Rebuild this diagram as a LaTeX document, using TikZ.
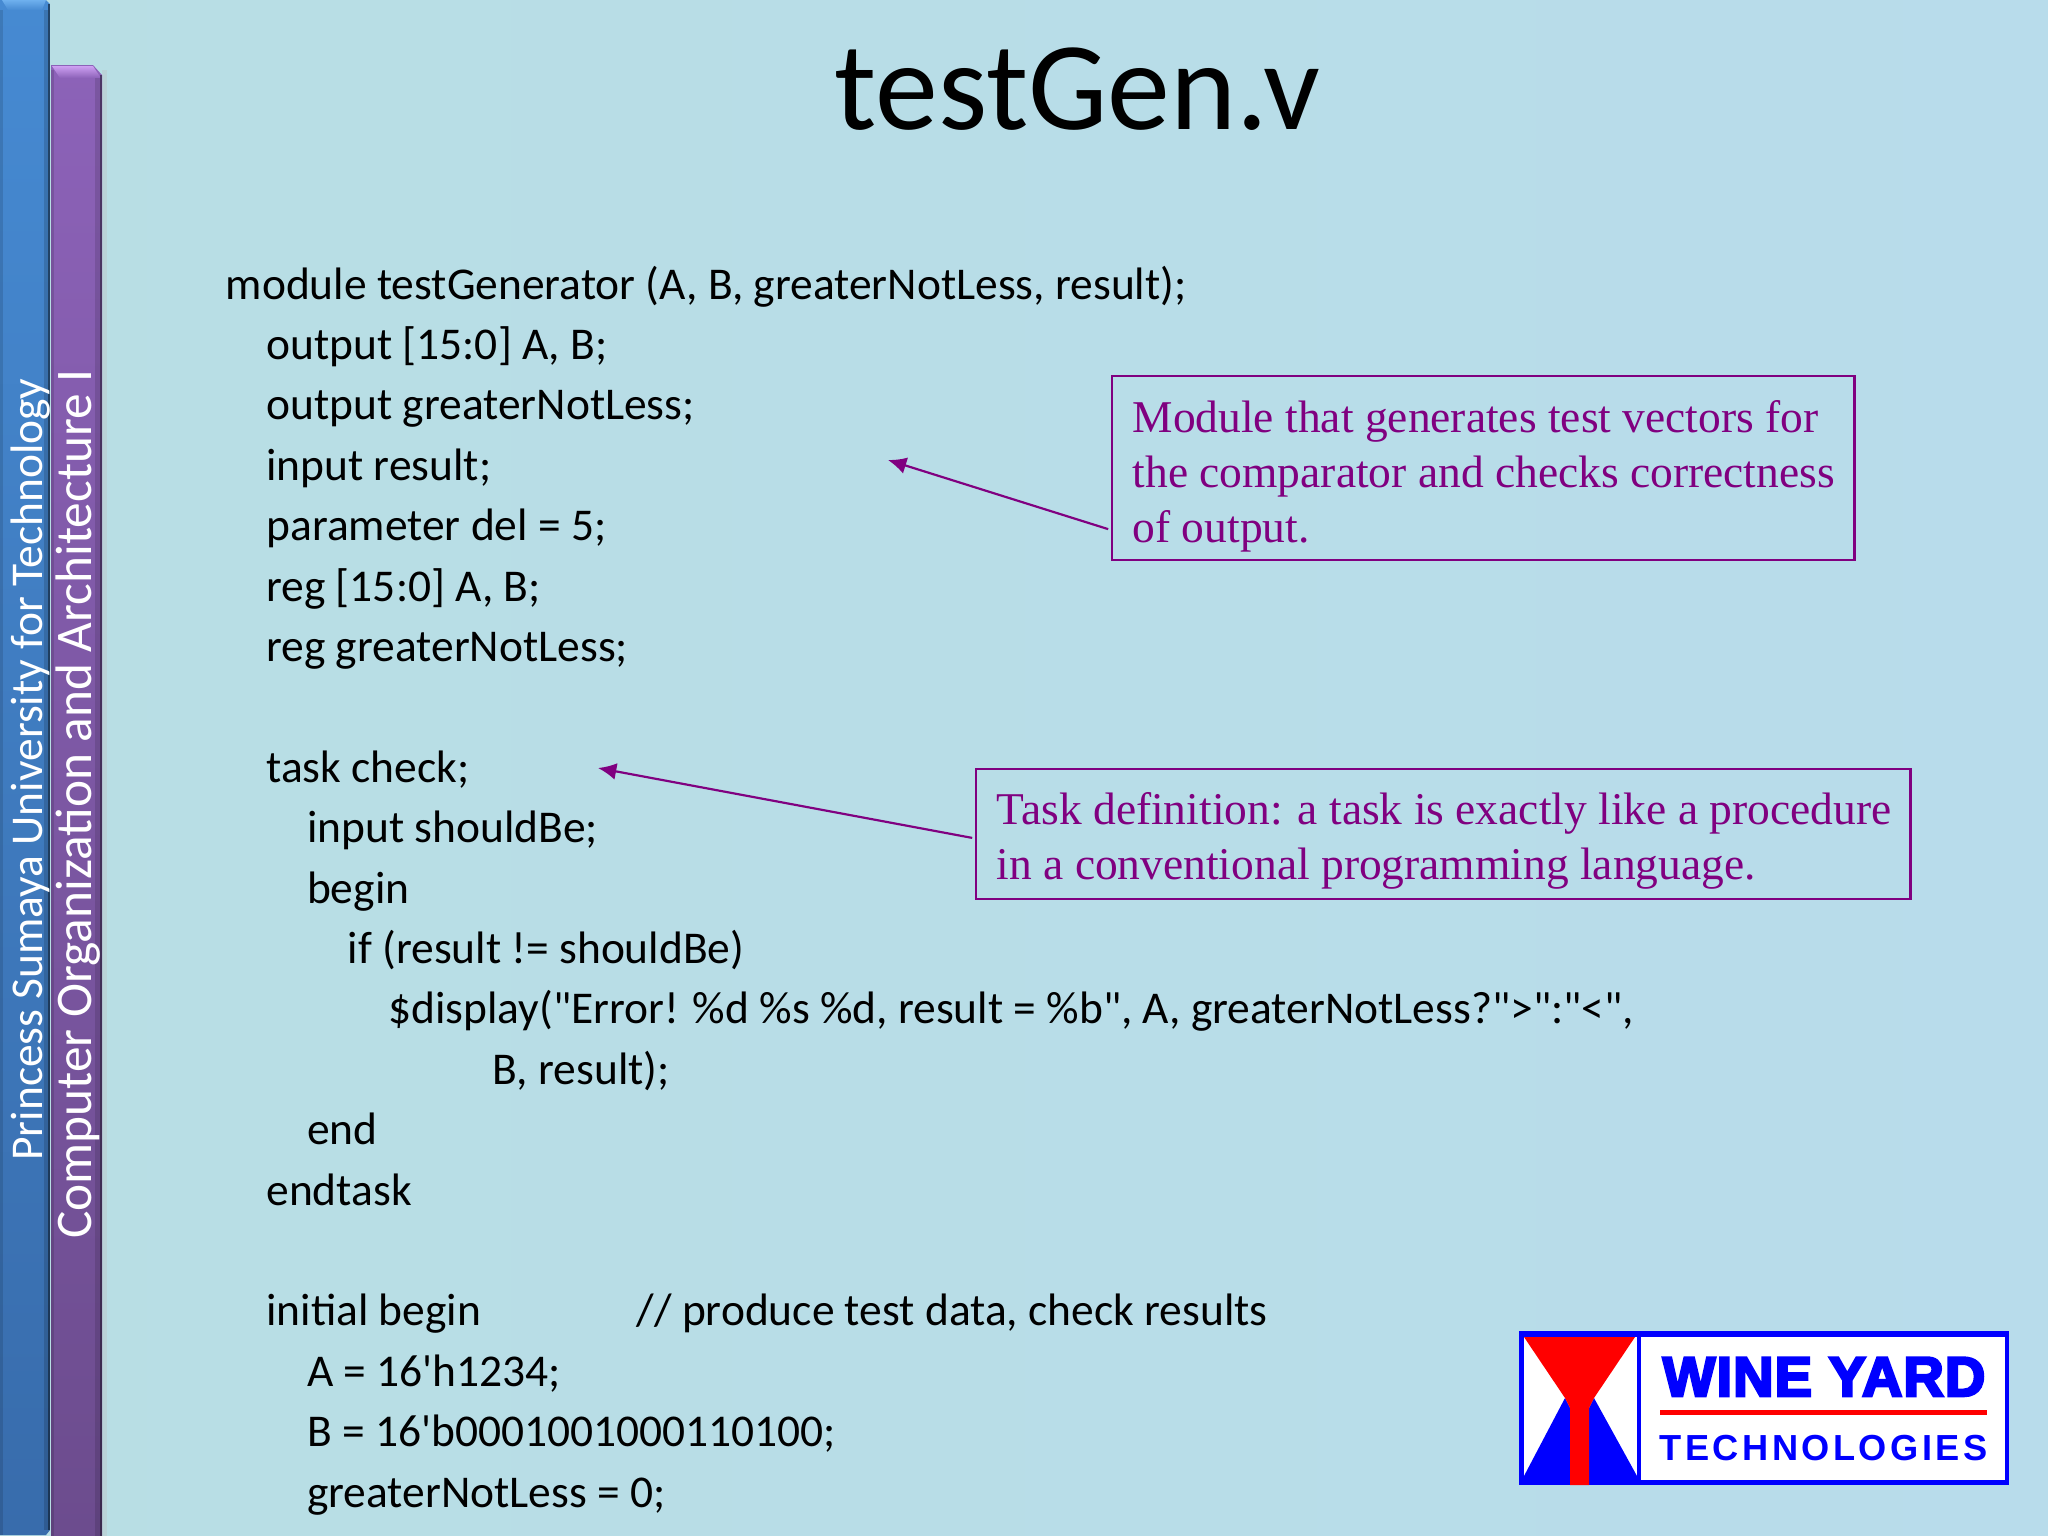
\documentclass[tikz,border=0pt]{standalone}
\usepackage{fontspec}
\usetikzlibrary{arrows.meta}
\newfontfamily\codefont{Carlito}
\newfontfamily\notefont{Liberation Serif}
\newfontfamily\wineyfont[FakeBold=4.5,LetterSpace=2]{Liberation Sans Bold}
\newfontfamily\techfont[LetterSpace=9.5]{Liberation Sans Bold}
\definecolor{notepurple}{HTML}{800080}
\definecolor{logoblue}{HTML}{0000FF}
\definecolor{logored}{HTML}{FF0000}
\definecolor{bgleft}{RGB}{184,222,228}
\definecolor{bgright}{RGB}{184,220,235}
\definecolor{purpletop}{RGB}{140,98,184}
\definecolor{purplebot}{RGB}{108,76,142}
\definecolor{purplecap}{RGB}{205,160,242}
\definecolor{bluetop}{RGB}{70,138,210}
\definecolor{bluebot}{RGB}{56,108,172}
\definecolor{bluecap}{RGB}{110,176,238}
\tikzset{
  codeline/.style={anchor=base west,inner sep=0pt,font=\codefont\fontsize{12.93}{15}\selectfont},
  notebox/.style={draw=notepurple,line width=0.65pt,anchor=north west,inner sep=0pt},
  notetext/.style={text=notepurple,anchor=west,align=left,inner sep=0pt,
    font=\notefont\fontsize{12.93}{15.6}\selectfont},
  notearrow/.style={draw=notepurple,line width=0.62pt,-{Latex[length=5.2pt,width=4.8pt]}},
  sidetext/.style={rotate=90,text=white,inner sep=0pt,font=\codefont\fontsize{12.93}{15}\selectfont},
}
\begin{document}
\begin{tikzpicture}[x=0.01cm,y=-0.01cm]
\useasboundingbox (0,0) rectangle (2048,1536);
\fill[left color=bgleft,right color=bgright] (0,0) rectangle (2048,1536);

% side bars
\fill[black!25,opacity=0.35] (102,70) rectangle (107,1536);
\shade[top color=purpletop,bottom color=purplebot] (51,65) -- (93,65) -- (102,75) -- (102,1536) -- (51,1536) -- cycle;
\shade[top color=purplecap,bottom color=purpletop] (52,66) -- (93,66) -- (101,78) -- (60,78) -- cycle;
\fill[black,opacity=0.12] (51,70) rectangle (54,1536);
\fill[black,opacity=0.12] (95,78) rectangle (100,1536);
\fill[black,opacity=0.45] (100,75) rectangle (102,1536);
\shade[top color=bluetop,bottom color=bluebot] (0,0) -- (46,0) -- (50,4) -- (50,1530) -- (46,1535) -- (0,1535) -- cycle;
\shade[top color=bluecap,bottom color=bluetop] (2,0) -- (46,0) -- (42,10) -- (8,10) -- cycle;
\fill[black,opacity=0.12] (0,10) rectangle (3,1535);
\fill[black,opacity=0.15] (44,10) rectangle (48,1530);
\fill[black,opacity=0.5] (48,4) rectangle (50,1530);
\node[sidetext] (uni) at (30.5,769.5) {Princess Sumaya University for Technology};
\node[sidetext,font=\codefont\fontsize{14.6}{17}\selectfont] (course) at (78,804) {Computer Organization and Architecture I};

\node[font=\codefont\fontsize{35.8}{40}\selectfont,anchor=base,inner sep=0pt] (title) at (1077.5,129) {testGen.v};

% code lines
\foreach \n/\lvl/\txt in {
  0/0/{module testGenerator (A, B, greaterNotLess, result);},
  1/1/{output [15:0] A, B;},
  2/1/{output greaterNotLess;},
  3/1/{input result;},
  4/1/{parameter del = 5;},
  5/1/{reg [15:0] A, B;},
  6/1/{reg greaterNotLess;},
  8/1/{task check;},
  9/2/{input shouldBe;},
  10/2/{begin},
  11/3/{if (result != shouldBe)},
  12/4/{\$display("Error! \%d \%s \%d, result = \%b", A, greaterNotLess?">":"<",},
  14/2/{end},
  15/1/{endtask},
  17/1/{initial begin},
  18/2/{A = 16'h1234;},
  19/2/{B = 16'b0001001000110100;},
  20/2/{greaterNotLess = 0;}}
  \node[codeline] (line\n) at ({225+\lvl*40.7},{299+\n*60.4}) {\txt};
\node[codeline] (line13) at (492,{299+13*60.4}) {B, result);};
\node[codeline] (comment) at (636,{299+17*60.4}) {// produce test data, check results};

% notes
\node[notebox,minimum width=742*0.2845pt,minimum height=184.5*0.2845pt] (modulenote) at (1111,374.5) {};
\node[notetext] (moduletext) at (1132,476) {Module that generates test vectors for\\the comparator and checks correctness\\of output.};
\node[notebox,minimum width=934*0.2845pt,minimum height=130*0.2845pt] (tasknote) at (975,767.5) {};
\node[notetext] (tasktext) at (996,840.5) {Task definition: a task is exactly like a procedure\\in a conventional programming language.};
\coordinate (moduletip) at (888,460);
\coordinate (tasktip) at (598,768);
\draw[notearrow] ([xshift=-0.8pt,yshift=-17.4pt]modulenote.west) -- (moduletip);
\draw[notearrow] ([xshift=-0.8pt,yshift=-1.2pt]tasknote.west) -- (tasktip);

% logo
\fill[logoblue] (1518.5,1331) rectangle (2008.5,1485);
\fill[white] (1524,1336.5) rectangle (1637,1481);
\fill[white] (1641,1336.5) rectangle (2005,1479.5);
\fill[logoblue] (1524,1476) -- (1565,1398) -- (1570,1408) -- (1589,1408) -- (1594,1398) -- (1637,1476) -- (1637,1481) -- (1524,1481) -- cycle;
\fill[logored] (1524,1337) -- (1635,1337) -- (1594,1398) -- (1589,1408) -- (1589,1485) -- (1570,1485) -- (1570,1408) -- (1565,1398) -- cycle;
\fill[logored] (1660.4,1410.3) rectangle (1986.5,1414.7);
\node[anchor=base,inner sep=0pt,text=logoblue,font=\wineyfont\fontsize{15.9}{18}\selectfont] (wine) at (1824,1396) {WINE YARD};
\node[anchor=base,inner sep=0pt,text=logoblue,font=\techfont\fontsize{10.3}{12}\selectfont] (tech) at (1823.5,1460) {TECHNOLOGIES};
\end{tikzpicture}
\end{document}
